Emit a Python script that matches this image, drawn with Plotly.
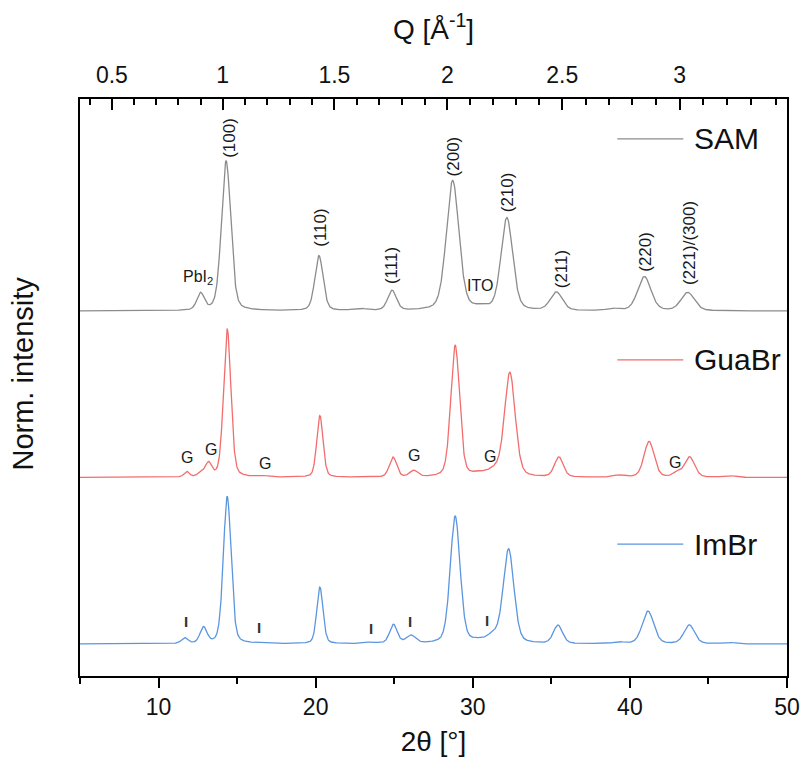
import numpy as np
import plotly.graph_objects as go

# ---------------- data ----------------
WAVELENGTH = 1.5406  # Cu K-alpha, Angstrom

# SAM pattern: peak positions (2theta, deg), heights (norm.), FWHM (deg)
sam_pos = [12.67, 14.30, 20.21, 22.8, 24.86, 28.72, 30.5, 32.17, 35.32, 38.9, 40.92, 43.68]
sam_height = [0.100, 0.900, 0.330, 0.012, 0.120, 0.780, 0.016, 0.555, 0.110, 0.012, 0.205, 0.110]
sam_fwhm = [0.55, 0.70, 0.62, 1.0, 0.65, 0.95, 1.0, 0.88, 0.90, 0.8, 1.0, 1.0]

# GuaBr pattern
gua_pos = [11.79, 12.7, 13.18, 14.37, 16.6, 20.27, 24.92, 26.24, 28.88, 30.4, 31.4, 32.36, 35.48, 39.3, 41.22, 43.0, 43.8, 46.3]
gua_height = [0.032, 0.022, 0.080, 0.890, 0.008, 0.370, 0.120, 0.038, 0.790, 0.018, 0.036, 0.625, 0.120, 0.012, 0.215, 0.028, 0.122, 0.010]
gua_fwhm = [0.40, 0.50, 0.48, 0.55, 0.8, 0.47, 0.55, 0.60, 0.66, 1.0, 1.0, 0.80, 0.66, 0.8, 0.76, 0.6, 0.75, 0.9]

# ImBr pattern
im_pos = [11.66, 12.86, 14.37, 16.5, 20.27, 23.5, 24.95, 26.06, 28.88, 30.3, 31.3, 32.28, 35.42, 39.3, 41.15, 43.78, 46.3]
im_height = [0.034, 0.095, 0.885, 0.006, 0.340, 0.008, 0.114, 0.048, 0.765, 0.014, 0.042, 0.565, 0.110, 0.010, 0.197, 0.113, 0.008]
im_fwhm = [0.50, 0.52, 0.58, 0.8, 0.47, 1.0, 0.58, 0.70, 0.74, 1.0, 0.9, 0.80, 0.68, 0.8, 0.86, 0.80, 0.9]

series_names = ["SAM", "GuaBr", "ImBr"]
series_offsets = [2.0, 1.0, 0.0]
series_colors = ["#8c8c8c", "#f26d6d", "#5b95e0"]

# Q axis tick labels
q_major = [0.5, 1.0, 1.5, 2.0, 2.5, 3.0]
q_major_text = ["0.5", "1", "1.5", "2", "2.5", "3"]
q_minor = [round(0.4 + 0.1 * i, 1) for i in range(31)]

# peak labels
sam_labels = ["(100)", "(110)", "(111)", "(200)", "(210)", "(211)", "(220)", "(221)/(300)"]
gua_marks = ["G", "G", "G", "G", "G", "G"]
im_marks = ["I", "I", "I", "I", "I"]

# ---------------- build profiles ----------------
x = np.arange(5.0, 50.0001, 0.02)


def profile(xv, pos, hgt, fw, eta=0.3):
    y = np.zeros_like(xv)
    for p, a, f in zip(pos, hgt, fw):
        s = f / (2 * np.sqrt(2 * np.log(2)))
        g = np.exp(-((xv - p) ** 2) / (2 * s ** 2))
        l = 1.0 / (1.0 + ((xv - p) / (f / 2)) ** 2)
        y += a * (eta * l + (1 - eta) * g)
    return y


profiles = [
    profile(x, sam_pos, sam_height, sam_fwhm),
    profile(x, gua_pos, gua_height, gua_fwhm),
    profile(x, im_pos, im_height, im_fwhm),
]


def q_to_2theta(q):
    return float(np.degrees(2 * np.arcsin(q * WAVELENGTH / (4 * np.pi))))


FONT = "Liberation Sans, Arial, sans-serif"

fig = go.Figure()
for name, off, col, prof in zip(series_names, series_offsets, series_colors, profiles):
    fig.add_trace(go.Scatter(x=x, y=prof + off, mode="lines", name=name,
                             line=dict(color=col, width=1.3), showlegend=False))

# invisible trace to carry the top (Q) axis
fig.add_trace(go.Scatter(x=[5, 50], y=[0, 0], xaxis="x2", mode="markers",
                         marker=dict(opacity=0), showlegend=False, hoverinfo="skip"))

# ---------------- annotations ----------------
ann = []
sam_label_xy = [(14.55, 3.04), (20.34, 2.50), (24.80, 2.27), (28.76, 2.93),
                (32.21, 2.71), (35.61, 2.25), (41.02, 2.355), (43.78, 2.41)]
for t, (ax_, ay_) in zip(sam_labels, sam_label_xy):
    ann.append(dict(x=ax_, y=ay_, text=t, textangle=-90, showarrow=False,
                    font=dict(family=FONT, size=17, color="#1a1a1a"),
                    xanchor="center", yanchor="middle"))
ann.append(dict(x=12.48, y=2.20, text="PbI<sub>2</sub>", showarrow=False,
                font=dict(family=FONT, size=16, color="#1a1a1a")))
ann.append(dict(x=30.46, y=2.155, text="ITO", showarrow=False,
                font=dict(family=FONT, size=16, color="#1a1a1a")))

g_xy = [(11.79, 1.123), (13.36, 1.171), (16.75, 1.087), (26.24, 1.135), (31.08, 1.129), (42.84, 1.093)]
for t, (ax_, ay_) in zip(gua_marks, g_xy):
    ann.append(dict(x=ax_, y=ay_, text=t, showarrow=False,
                    font=dict(family=FONT, size=16, color="#1a1a1a")))

i_xy = [(11.73, 0.138), (16.38, 0.102), (23.54, 0.096), (25.99, 0.138), (30.90, 0.144)]
for t, (ax_, ay_) in zip(im_marks, i_xy):
    ann.append(dict(x=ax_, y=ay_, text="<b>" + t + "</b>", showarrow=False,
                    font=dict(family=FONT, size=15, color="#333333")))

# manual legend entries
legend_y = [3.033, 1.706, 0.60]
shapes = []
for name, col, ly in zip(series_names, series_colors, legend_y):
    shapes.append(dict(type="line", xref="x", yref="y", x0=39.2, x1=43.4, y0=ly, y1=ly,
                       line=dict(color=col, width=1.3)))
    ann.append(dict(x=43.95, y=ly, text=name, showarrow=False, xanchor="left", yanchor="middle",
                    font=dict(family=FONT, size=30, color="#111111")))

# y-axis title placed as a paper annotation
ann.append(dict(xref="paper", yref="paper", x=-0.08, y=0.525, text="Norm. intensity",
                textangle=-90, showarrow=False, xanchor="center", yanchor="middle",
                font=dict(family=FONT, size=29, color="#111111")))

fig.update_layout(
    width=812, height=766,
    margin=dict(l=80, r=16, t=99, b=90),
    paper_bgcolor="white", plot_bgcolor="white",
    annotations=ann, shapes=shapes,
    showlegend=False,
    xaxis=dict(range=[5, 50], tickmode="linear", tick0=0, dtick=10,
               ticks="outside", ticklen=10, tickwidth=1.5, tickcolor="black",
               minor=dict(tickmode="linear", tick0=5, dtick=10, ticks="outside", ticklen=6,
                          tickwidth=1.5, tickcolor="black"),
               showline=True, linecolor="black", linewidth=1.5, mirror=True,
               showgrid=False, zeroline=False,
               tickfont=dict(family=FONT, size=23, color="#111111"),
               title=dict(text="2θ [°]", font=dict(family=FONT, size=28, color="#111111"), standoff=12)),
    xaxis2=dict(range=[5, 50], overlaying="x", side="top", anchor="y",
                tickmode="array", tickvals=[q_to_2theta(q) for q in q_major], ticktext=q_major_text,
                ticks="inside", ticklen=11, tickwidth=1.5, tickcolor="black",
                ticklabelstandoff=10,
                minor=dict(tickmode="array", tickvals=[q_to_2theta(q) for q in q_minor],
                           ticks="inside", ticklen=6, tickwidth=1.5, tickcolor="black"),
                showline=False, showgrid=False, zeroline=False,
                tickfont=dict(family=FONT, size=23, color="#111111"),
                title=dict(text="Q [Å<sup>-1</sup>]", font=dict(family=FONT, size=28, color="#111111"),
                           standoff=14)),
    yaxis=dict(range=[-0.192, 3.273], showticklabels=False, ticks="",
               showline=True, linecolor="black", linewidth=1.5, mirror=True,
               showgrid=False, zeroline=False),
)

fig.write_html("out.html")
